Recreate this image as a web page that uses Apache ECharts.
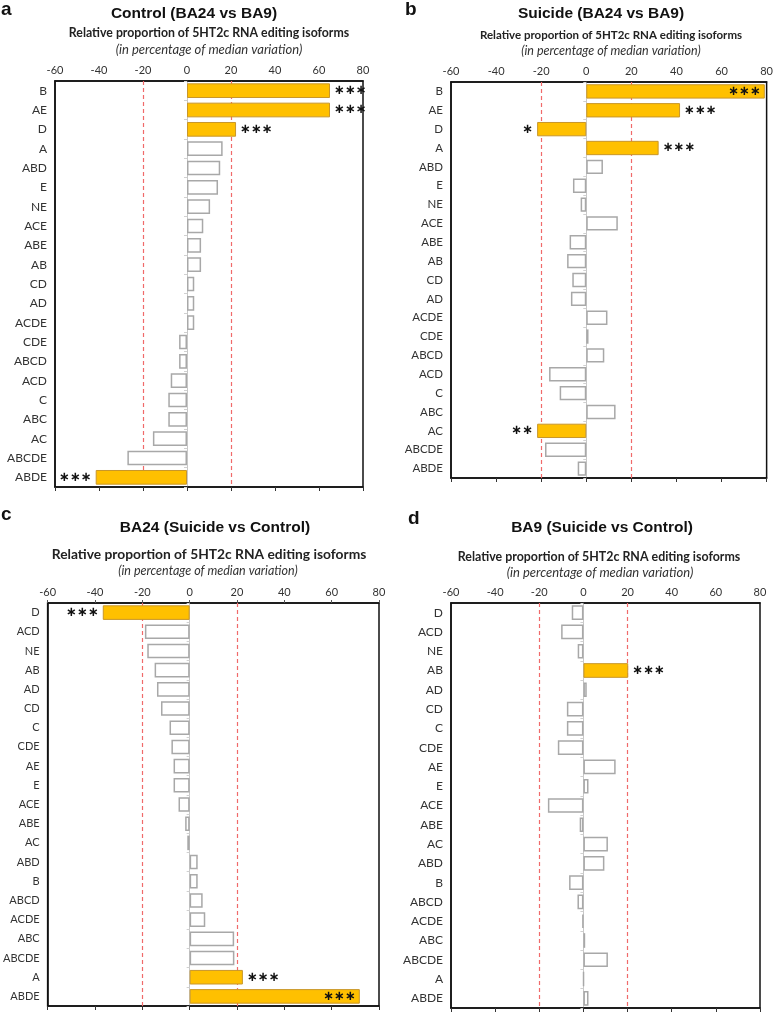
<!DOCTYPE html>
<html>
<head>
<meta charset="utf-8">
<script src="https://cdn.jsdelivr.net/npm/echarts@6/dist/echarts.min.js"></script>
<style>
  html, body { margin: 0; padding: 0; background: #fff; }
  #main { width: 776px; height: 1014px; }
</style>
</head>
<body>
<div id="main"></div>
<script>
// x axis ticks (shared by all four panels)
var xMin = -60, xMax = 80, xStep = 20;
var thresholds = [-20, 20];

// a - Control (BA24 vs BA9)
var catsA = ['B', 'AE', 'D', 'A', 'ABD', 'E', 'NE', 'ACE', 'ABE', 'AB', 'CD', 'AD', 'ACDE', 'CDE', 'ABCD', 'ACD', 'C', 'ABC', 'AC', 'ABCDE', 'ABDE'];
var valsA = [65, 65, 22.3, 16.2, 15.1, 14.1, 10.5, 7.4, 6.4, 6.4, 3.3, 3.3, 3.3, -3.6, -3.6, -7.4, -8.5, -8.5, -15.5, -27.1, -41.5];
var sigA  = ['***', '***', '***', '', '', '', '', '', '', '', '', '', '', '', '', '', '', '', '', '', '***'];

// b - Suicide (BA24 vs BA9)
var catsB = ['B', 'AE', 'D', 'A', 'ABD', 'E', 'NE', 'ACE', 'ABE', 'AB', 'CD', 'AD', 'ACDE', 'CDE', 'ABCD', 'ACD', 'C', 'ABC', 'AC', 'ABCDE', 'ABDE'];
var valsB = [79.2, 41.6, -21.8, 32.1, 7.4, -5.9, -2.5, 14.0, -7.4, -8.5, -6.2, -6.8, 9.4, 1.0, 8.0, -16.5, -11.8, 13.0, -21.8, -18.3, -3.8];
var sigB  = ['***', '***', '*', '***', '', '', '', '', '', '', '', '', '', '', '', '', '', '', '**', '', ''];

// c - BA24 (Suicide vs Control)
var catsC = ['D', 'ACD', 'NE', 'AB', 'AD', 'CD', 'C', 'CDE', 'AE', 'E', 'ACE', 'ABE', 'AC', 'ABD', 'B', 'ABCD', 'ACDE', 'ABC', 'ABCDE', 'A', 'ABDE'];
var valsC = [-36.7, -18.9, -17.9, -14.8, -13.8, -12.1, -8.5, -7.7, -6.8, -6.8, -4.7, -1.9, -1.0, 3.4, 3.4, 5.5, 6.6, 18.8, 18.9, 22.5, 71.9];
var sigC  = ['***', '', '', '', '', '', '', '', '', '', '', '', '', '', '', '', '', '', '', '***', '***'];

// d - BA9 (Suicide vs Control)
var catsD = ['D', 'ACD', 'NE', 'AB', 'AD', 'CD', 'C', 'CDE', 'AE', 'E', 'ACE', 'ABE', 'AC', 'ABD', 'B', 'ABCD', 'ACDE', 'ABC', 'ABCDE', 'A', 'ABDE'];
var valsD = [-5.3, -10.1, -2.6, 20.3, 1.5, -7.5, -7.5, -11.6, 14.6, 2.3, -16.1, -1.7, 11.1, 9.5, -6.5, -2.7, -0.5, 0.8, 11.1, 0.1, 2.3];
var sigD  = ['', '', '', '***', '', '', '', '', '', '', '', '', '', '', '', '', '', '', '', '', ''];

var panels = [
  { letter: 'a', title: 'Control (BA24 vs BA9)', cats: catsA, vals: valsA, sig: sigA,
    grid: { left: 55, top: 81, width: 308, height: 406 },
    tx: 194, ty: 14, sx: 209, sy: 33, ix: 209, iy: 50, lx: 1, ly: 9,
    subSize: 12.3, itSize: 13, catSize: 12 },
  { letter: 'b', title: 'Suicide (BA24 vs BA9)', cats: catsB, vals: valsB, sig: sigB,
    grid: { left: 451, top: 82, width: 317, height: 396 },
    tx: 601, ty: 14, sx: 611, sy: 35, ix: 611, iy: 51, lx: 405, ly: 9,
    subSize: 11.5, itSize: 12.5, catSize: 11.5 },
  { letter: 'c', title: 'BA24 (Suicide vs Control)', cats: catsC, vals: valsC, sig: sigC,
    grid: { left: 39, top: 603, width: 340, height: 403 },
    tx: 215, ty: 528, sx: 209, sy: 555, ix: 208, iy: 571, lx: 1, ly: 514,
    subSize: 13.8, itSize: 12.5, catSize: 11 },
  { letter: 'd', title: 'BA9 (Suicide vs Control)', cats: catsD, vals: valsD, sig: sigD,
    grid: { left: 451, top: 603, width: 309, height: 405 },
    tx: 602, ty: 528, sx: 599, sy: 557, ix: 600, iy: 573, lx: 408, ly: 518,
    subSize: 12.4, itSize: 13, catSize: 12 }
];

var grids = [], xAxes = [], yAxes = [], series = [], graphics = [];

panels.forEach(function (p, i) {
  grids.push(Object.assign({ show: true, borderColor: '#111', borderWidth: 1.5, backgroundColor: '#fff' }, p.grid));

  // top axis with the tick labels
  xAxes.push({
    gridIndex: i, type: 'value', position: 'top', min: xMin, max: xMax, interval: xStep,
    axisLine: { show: true, onZero: false, lineStyle: { color: '#111', width: 1.5 } },
    axisTick: { show: i === 2, length: 3, lineStyle: { color: '#555' } },
    splitLine: { show: false },
    axisLabel: { color: '#333', fontSize: 11, fontFamily: 'Lato', margin: 5 }
  });
  // bottom axis: ticks only
  xAxes.push({
    gridIndex: i, type: 'value', position: 'bottom', min: xMin, max: xMax, interval: xStep,
    axisLine: { show: true, onZero: false, lineStyle: { color: '#111', width: 1.5 } },
    axisTick: { show: true, length: 4, lineStyle: { color: '#333', width: 1 } },
    splitLine: { show: false },
    axisLabel: { show: false }
  });

  // category labels at the left frame
  yAxes.push({
    gridIndex: i, type: 'category', data: p.cats, inverse: true, position: 'left',
    axisLine: { show: true, onZero: false, lineStyle: { color: '#111', width: 1.5 } },
    axisTick: { show: false },
    axisLabel: { color: '#333', fontSize: p.catSize, fontFamily: 'Lato', margin: 8 }
  });
  // light zero line
  yAxes.push({
    gridIndex: i, type: 'category', data: p.cats, inverse: true, position: 'left',
    axisLine: { show: true, onZero: true, lineStyle: { color: '#c8c8c8', width: 1 } },
    axisTick: { show: true, length: 3, lineStyle: { color: '#d0d0d0' } },
    axisLabel: { show: false }
  });

  var data = p.vals.map(function (v, k) {
    var s = p.sig[k];
    var pos = v > 70 ? 'insideRight' : (v >= 0 ? 'right' : 'left');
    return {
      value: v,
      itemStyle: s ? { color: '#FFC000', borderColor: '#C8962A', borderWidth: 1 }
                   : { color: '#fff', borderColor: '#a8a8a8', borderWidth: 1.5 },
      label: { show: !!s, position: pos }
    };
  });

  series.push({
    type: 'bar', xAxisIndex: i * 2, yAxisIndex: i * 2, data: data,
    barCategoryGap: '24%',
    z: 3,
    label: {
      distance: 4, color: '#111', fontSize: 13, fontWeight: 'bold', fontFamily: 'DejaVu Sans',
      formatter: function (prm) { return p.sig[prm.dataIndex].split('').map(function () { return '\u2217'; }).join(''); }
    },
    markLine: {
      silent: true, symbol: 'none', label: { show: false }, z: 1,
      lineStyle: { color: '#f06a6a', type: [4, 3], width: 1.2 },
      data: thresholds.map(function (t) { return { xAxis: t }; })
    }
  });

  graphics.push(
    { type: 'text', left: p.lx, top: p.ly - 9, style: { text: p.letter, fontSize: 19, fontWeight: 'bold', fontFamily: 'Liberation Sans', fill: '#111' } },
    { type: 'text', x: p.tx, y: p.ty, style: { text: p.title, align: 'center', verticalAlign: 'middle', fontSize: 15.5, fontWeight: 'bold', fontFamily: 'Liberation Sans', fill: '#111' } },
    { type: 'text', x: p.sx, y: p.sy, style: { text: 'Relative proportion of 5HT2c RNA editing isoforms', align: 'center', verticalAlign: 'middle', fontSize: p.subSize, fontWeight: 'bold', fontFamily: 'Lato', fill: '#222' } },
    { type: 'text', x: p.ix, y: p.iy, style: { text: '(in percentage of median variation)', align: 'center', verticalAlign: 'middle', fontSize: p.itSize, fontStyle: 'italic', fontFamily: 'Lato', fill: '#333' } }
  );
});

var chart = echarts.init(document.getElementById('main'), null, { renderer: 'canvas' });
chart.setOption({
  animation: false,
  backgroundColor: '#fff',
  grid: grids,
  xAxis: xAxes,
  yAxis: yAxes,
  series: series,
  graphic: graphics
});
</script>
</body>
</html>
